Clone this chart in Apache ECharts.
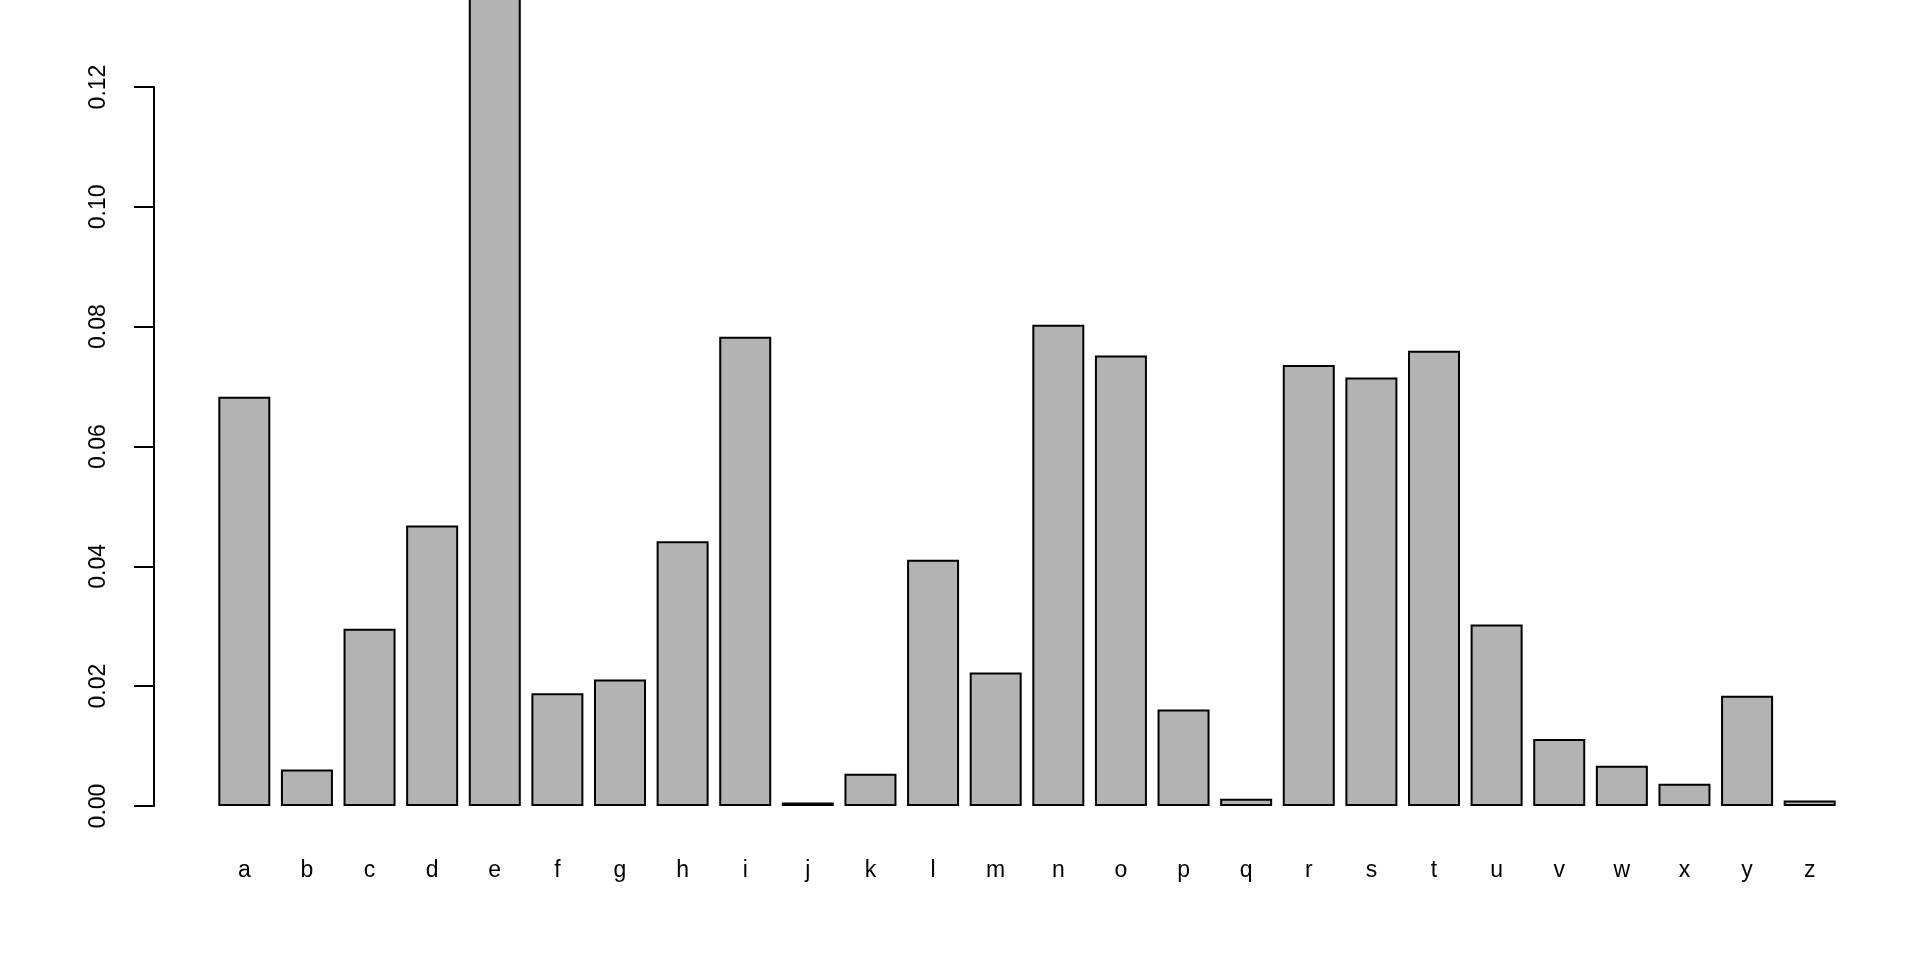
<!DOCTYPE html>
<html>
<head>
<meta charset="utf-8">
<script src="https://cdn.jsdelivr.net/npm/echarts@6/dist/echarts.min.js"></script>
<style>
  html, body { margin: 0; padding: 0; background: #fff; }
  #chart { width: 1920px; height: 960px; }
</style>
</head>
<body>
<div id="chart"></div>
<script>
// letters on the x axis
const letters = ['a', 'b', 'c', 'd', 'e', 'f', 'g', 'h', 'i', 'j', 'k', 'l', 'm',
  'n', 'o', 'p', 'q', 'r', 's', 't', 'u', 'v', 'w', 'x', 'y', 'z']
// relative frequency of each letter
const freqs = [0.0683, 0.0061, 0.0296, 0.0468, 0.1400, 0.0188, 0.0211, 0.0442, 0.0783,
  0.0006, 0.0054, 0.0411, 0.0223, 0.0803, 0.0752, 0.0161, 0.0012, 0.0736, 0.0715,
  0.0760, 0.0303, 0.0112, 0.0067, 0.0037, 0.0184, 0.0009]
// y tick labels
const yTicks = ['0.00', '0.02', '0.04', '0.06', '0.08', '0.10', '0.12']

const chart = echarts.init(document.getElementById('chart'))
const font = 'Liberation Sans, Arial, sans-serif'

const option = {
  animation: false,
  backgroundColor: '#ffffff',
  grid: { left: 213, right: 79, top: 87, bottom: 154 },
  xAxis: {
    type: 'category',
    data: letters,
    axisLine: { show: false },
    axisTick: { show: false },
    axisLabel: { color: '#000', fontSize: 23, fontFamily: font, margin: 53 }
  },
  yAxis: {
    type: 'value',
    min: 0,
    max: 0.12,
    interval: 0.02,
    offset: 59,
    splitLine: { show: false },
    axisLine: { show: true, lineStyle: { color: '#000', width: 2 } },
    axisTick: { show: true, length: 20, lineStyle: { color: '#000', width: 2 } },
    axisLabel: {
      color: '#000', fontSize: 23, fontFamily: font, rotate: 90, margin: 44,
      formatter: (v) => yTicks[Math.round(v / 0.02)]
    }
  },
  series: [{
    type: 'bar',
    data: freqs,
    clip: false,
    barWidth: 52,
    itemStyle: { color: '#b3b3b3', borderColor: '#000', borderWidth: 2 }
  }]
}
chart.setOption(option)
</script>
</body>
</html>
